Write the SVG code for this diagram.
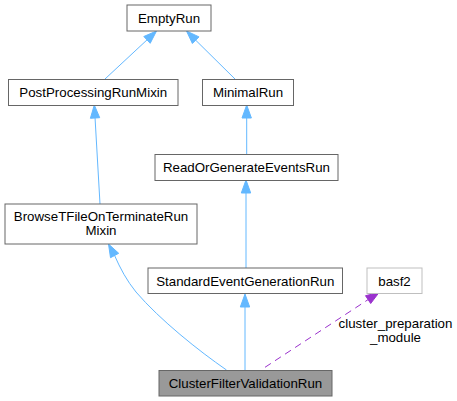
<svg xmlns="http://www.w3.org/2000/svg" width="457" height="401" viewBox="0 0 457 401">
<style>
.node rect{fill:#ffffff;stroke:#666666;stroke-width:1}
.node text{font-family:"Liberation Sans",Arial,sans-serif;font-size:13.3px;fill:#000000;text-anchor:middle}
.edge{fill:none;stroke:#63b8ff;stroke-width:1}
.head{fill:#63b8ff;stroke:#63b8ff;stroke-width:1}
.dep{fill:none;stroke:#9a32cd;stroke-width:1;stroke-dasharray:7,5}
.dephead{fill:#9a32cd;stroke:#9a32cd;stroke-width:1}
.lbl{font-family:"Liberation Sans",Arial,sans-serif;font-size:13.3px;fill:#000000;text-anchor:middle}
</style>
<rect width="457" height="401" fill="#ffffff"/>
<g id="connectors">
<path class="edge" d="M105,79 L147,39.9"/>
<polygon class="head" points="156.5,31 150.2,43.3 143.8,36.5"/>
<path class="edge" d="M235,79 L195.7,40.2"/>
<polygon class="head" points="186.5,31 199,36.9 192.4,43.5"/>
<path class="edge" d="M246.7,154 L246.7,118"/>
<polygon class="head" points="246.7,105 251.4,118 242,118"/>
<path class="edge" d="M100,204 L95.05,118"/>
<polygon class="head" points="94.3,105 99.7,117.7 90.4,118.3"/>
<path class="edge" d="M246,268 L246,193"/>
<polygon class="head" points="246,180 250.7,193 241.3,193"/>
<path class="edge" d="M245,370 L245,307"/>
<polygon class="head" points="245,294 249.7,307 240.3,307"/>
<path class="edge" d="M226.5,370 C199,351 160,320 136,292 C127,281 120,268 114.6,255.5"/>
<polygon class="head" points="108.5,244 118.7,253.3 110.5,257.7"/>
<path class="dep" d="M265,367.3 L368.1,299.6"/>
<polygon class="dephead" points="379,292.5 370.7,303.5 365.5,295.7"/>
<text class="lbl" x="395.5" y="328">cluster_preparation</text>
<text class="lbl" x="395.5" y="342">_module</text>
</g>
<g id="EmptyRun" class="node"><rect x="127" y="5" width="84" height="26"/><text x="169" y="22.5">EmptyRun</text></g>
<g id="PostProcessingRunMixin" class="node"><rect x="8.5" y="79.5" width="169.5" height="26"/><text x="93.25" y="97">PostProcessingRunMixin</text></g>
<g id="MinimalRun" class="node"><rect x="202.5" y="79.5" width="91" height="26"/><text x="248" y="97">MinimalRun</text></g>
<g id="ReadOrGenerateEventsRun" class="node"><rect x="155" y="154.5" width="183" height="26"/><text x="246.5" y="172">ReadOrGenerateEventsRun</text></g>
<g id="BrowseTFileOnTerminateRunMixin" class="node"><rect x="5" y="204" width="192" height="40"/><text x="101" y="220.5">BrowseTFileOnTerminateRun</text><text x="101" y="235">Mixin</text></g>
<g id="StandardEventGenerationRun" class="node"><rect x="148" y="268" width="194.5" height="25.5"/><text x="245.25" y="285.5">StandardEventGenerationRun</text></g>
<g id="basf2" class="node"><rect x="367" y="268" width="55" height="25.5" style="stroke:#bfbfbf"/><text x="394.5" y="285.5">basf2</text></g>
<g id="ClusterFilterValidationRun" class="node"><rect x="159" y="370.5" width="173" height="25.5" style="fill:#999999"/><text x="245.5" y="388">ClusterFilterValidationRun</text></g>
</svg>
